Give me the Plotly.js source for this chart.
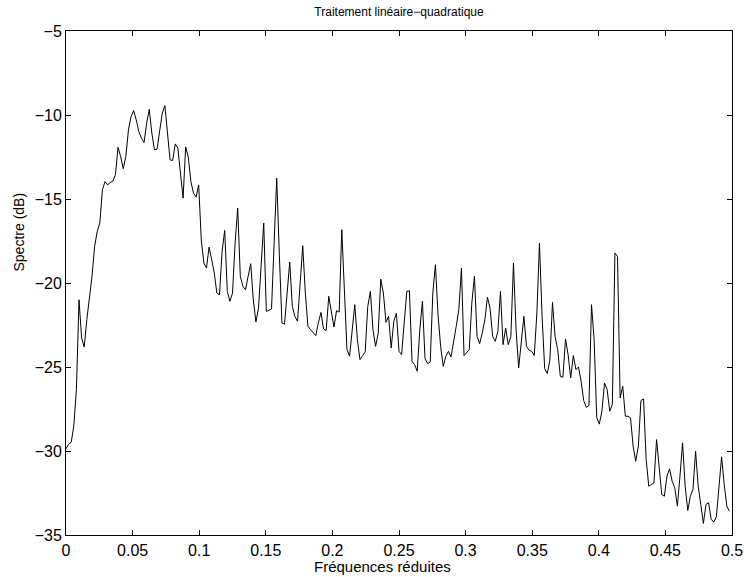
<!DOCTYPE html>
<html>
<head>
<meta charset="utf-8">
<script src="https://cdn.plot.ly/plotly-3.0.1.min.js"></script>
<style>
  html, body { margin: 0; padding: 0; background: #fff; }
  #chart { width: 744px; height: 577px; }
</style>
</head>
<body>
<div id="chart"></div>
<script>
// Reduced frequency step (sampling grid of the spectrum)
const freqStep = 1 / 512;

// Spectrum values in dB (256 samples, 0 .. 0.498)
const spectrumDb = [
  -29.87, -29.6, -29.48, -28.52, -26.34, -21.0, -23.27, -23.81, -22.18, -21.0,
  -19.6, -17.82, -16.93, -16.43, -14.45, -13.96, -14.16, -14.02, -13.94, -13.56,
  -11.92, -12.47, -13.2, -12.47, -10.89, -10.1, -9.74, -10.29, -10.99, -11.38,
  -11.64, -10.49, -9.66, -11.08, -12.07, -12.03, -10.89, -9.89, -9.44, -11.08,
  -12.67, -12.71, -11.72, -11.97, -13.66, -14.95, -11.9, -12.5, -13.96, -14.65,
  -14.89, -14.16, -17.43, -18.81, -19.11, -17.86, -18.62, -19.41, -20.6, -20.7,
  -18.12, -16.87, -20.5, -21.09, -20.6, -17.63, -15.54, -19.6, -20.2, -20.4,
  -19.6, -18.85, -21.0, -22.32, -21.5, -19.0, -16.43, -21.69, -21.6, -21.55,
  -17.6, -13.76, -18.3, -22.38, -22.45, -20.6, -18.75, -21.4, -22.0, -22.28,
  -20.2, -17.78, -20.6, -22.58, -22.78, -22.94, -23.13, -22.38, -21.75, -22.74,
  -22.83, -20.79, -21.69, -22.62, -21.65, -21.73, -16.83, -20.4, -23.97, -24.36,
  -22.97, -21.29, -23.37, -24.56, -24.32, -24.1, -21.39, -20.5, -22.78, -23.77,
  -23.0, -19.77, -20.6, -22.34, -21.98, -23.87, -22.28, -21.79, -24.07, -24.26,
  -22.38, -20.5, -20.46, -24.66, -24.86, -25.25, -22.78, -21.09, -24.5, -24.8,
  -24.7, -20.6, -18.91, -21.89, -23.77, -24.96, -24.36, -24.07, -24.4, -23.57,
  -22.58, -21.59, -19.11, -24.32, -24.16, -23.97, -21.19, -19.6, -23.18, -23.61,
  -22.97, -22.2, -20.85, -21.5, -23.18, -23.47, -22.88, -20.5, -23.67, -22.68,
  -23.67, -23.18, -18.81, -22.78, -25.06, -23.57, -21.98, -23.77, -24.0, -24.07,
  -24.32, -21.79, -17.63, -21.98, -25.1, -25.39, -24.6, -21.15, -23.18, -23.97,
  -25.55, -25.61, -23.33, -24.26, -25.65, -24.32, -25.15, -25.0, -25.85, -27.0,
  -27.4, -27.3, -21.29, -23.37, -28.0, -28.4, -27.63, -25.95, -26.34, -27.63,
  -27.24, -18.22, -18.42, -26.84, -26.15, -27.93, -27.93, -28.03, -29.71, -30.61,
  -29.71, -27.0, -26.9, -30.5, -32.1, -32.0, -31.9, -29.32, -31.0, -32.59,
  -32.69, -31.5, -31.06, -31.8, -32.19, -33.28, -31.5, -29.51, -32.09, -33.54,
  -32.69, -32.29, -30.01, -32.09, -33.18, -34.31, -33.18, -33.08, -34.07, -34.23,
  -33.91, -32.09, -30.35, -31.99, -33.28, -33.58
];

const titleText = "Traitement linéaire\u2212quadratique";
const xLabel = "Fréquences réduites";
const yLabel = "Spectre (dB)";

const freqs = spectrumDb.map((_, i) => i * freqStep);

const font = "Liberation Sans, Arial, Helvetica, sans-serif";

const axisCommon = {
  showline: true,
  linecolor: "#000",
  linewidth: 1,
  mirror: "ticks",
  ticks: "inside",
  ticklen: 5,
  tickwidth: 1,
  tickcolor: "#000",
  showgrid: false,
  zeroline: false,
  tickfont: { family: font, size: 16, color: "#000" }
};

const layout = {
  width: 744,
  height: 577,
  margin: { l: 66, r: 12, t: 31, b: 42 },
  paper_bgcolor: "#fff",
  plot_bgcolor: "#fff",
  showlegend: false,
  font: { family: font, color: "#000" },
  title: {
    text: titleText,
    font: { family: font, size: 12, color: "#000" },
    x: 0.5, xref: "paper", xanchor: "center",
    y: 1 - 12 / 577, yref: "container", yanchor: "middle"
  },
  xaxis: Object.assign({}, axisCommon, {
    range: [0, 0.5],
    dtick: 0.05,
    tick0: 0,
    ticklabelstandoff: 1
  }),
  yaxis: Object.assign({}, axisCommon, {
    range: [-35, -5],
    dtick: 5,
    tick0: -35,
    ticklabelstandoff: 0
  }),
  annotations: [
    {
      text: xLabel, xref: "paper", yref: "paper",
      x: (382 - 66) / 666, y: -(567 - 535.5) / 504, xanchor: "center", yanchor: "middle",
      showarrow: false, font: { family: font, size: 15, color: "#000" }
    },
    {
      text: yLabel, xref: "paper", yref: "paper",
      x: -(66 - 18) / 666, y: (535.5 - 233) / 504, xanchor: "center", yanchor: "middle",
      textangle: -90,
      showarrow: false, font: { family: font, size: 14, color: "#000" }
    }
  ]
};

Plotly.newPlot("chart", [{
  type: "scatter",
  mode: "lines",
  x: freqs,
  y: spectrumDb,
  line: { color: "#000", width: 1 },
  hoverinfo: "x+y"
}], layout, { staticPlot: true, displayModeBar: false });
</script>
</body>
</html>
